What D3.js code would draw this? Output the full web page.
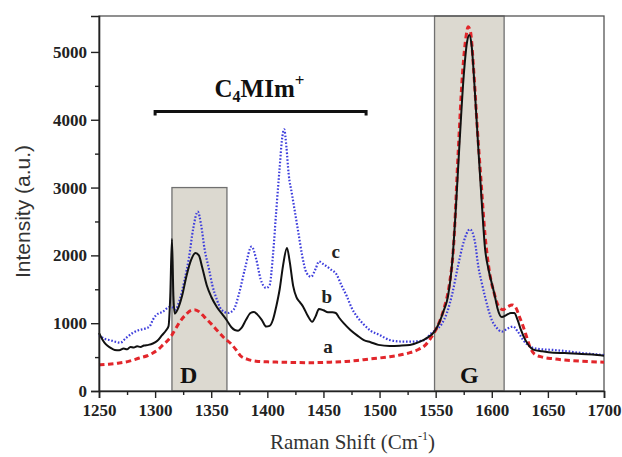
<!DOCTYPE html>
<html>
<head>
<meta charset="utf-8">
<script src="https://cdn.jsdelivr.net/npm/d3@7.9.0/dist/d3.min.js"></script>
<style>
  html, body { margin: 0; padding: 0; background: #fff; }
  svg { display: block; }
  .tick text { font-family: "Liberation Serif", serif; font-weight: bold; font-size: 17px; fill: #222; }
</style>
</head>
<body>
<svg id="chart" width="622" height="457"></svg>
<script>
// Raman spectra: [shift (cm-1), intensity (a.u.)]
const seriesA = [[1250,385],[1258,395],[1268,413],[1277,440],[1286,487],[1293,520],[1298,560],[1303,615],[1307,680],[1311,740],[1314,800],[1318,910],[1322,1020],[1327,1120],[1332,1190],[1335,1200],[1340,1160],[1344,1090],[1350,990],[1356,880],[1362,775],[1368,690],[1372,610],[1376,520],[1382,470],[1390,440],[1400,430],[1411,425],[1425,420],[1440,418],[1456,425],[1470,435],[1480,450],[1491,472],[1500,487],[1509,506],[1518,530],[1527,565],[1535,615],[1541,680],[1546,790],[1550,900],[1554,1047],[1558,1250],[1562,1550],[1566,2150],[1570,3500],[1574,4700],[1577,5220],[1579,5370],[1581,5300],[1584,4700],[1587,3900],[1590,3200],[1594,2300],[1598,1750],[1602,1450],[1606,1250],[1610,1200],[1614,1240],[1618,1270],[1621,1240],[1625,1080],[1628,950],[1631,800],[1634,650],[1638,545],[1645,500],[1655,475],[1665,457],[1680,440],[1700,425]];

const seriesB = [[1250,855],[1253,760],[1256,690],[1260,640],[1264,605],[1268,600],[1272,625],[1275,615],[1278,650],[1281,640],[1284,660],[1287,650],[1290,670],[1294,680],[1298,700],[1302,740],[1306,820],[1310,900],[1312,960],[1313.5,1400],[1315,2240],[1316.3,1400],[1317.5,1140],[1320,1200],[1324,1400],[1328,1700],[1332,1930],[1336,2035],[1339,2000],[1342,1820],[1346,1560],[1350,1390],[1355,1240],[1360,1130],[1364,1040],[1368,940],[1371,900],[1374,890],[1377,930],[1381,1050],[1385,1150],[1388,1165],[1391,1130],[1395,1050],[1399,950],[1402,960],[1405,1050],[1408,1250],[1411,1500],[1414,1850],[1417.5,2110],[1420,1900],[1423,1550],[1426,1380],[1429,1310],[1432,1240],[1436,1110],[1440,1020],[1443,1100],[1446,1210],[1450,1190],[1454,1160],[1458,1160],[1461,1150],[1464,1080],[1468,1000],[1474,900],[1480,820],[1486,750],[1492,720],[1499,680],[1509,664],[1518,668],[1527,678],[1535,720],[1542,780],[1549,880],[1553,1000],[1557,1180],[1561,1400],[1565,1950],[1568,2700],[1571,3580],[1575,4650],[1578,5150],[1580,5250],[1582,5100],[1585,4400],[1588,3580],[1591,2800],[1594,2100],[1597,1800],[1600,1590],[1603,1380],[1605,1225],[1609,1090],[1613,1120],[1617,1150],[1620,1150],[1623,1050],[1626,900],[1630,750],[1634,650],[1637,610],[1645,585],[1655,565],[1665,560],[1680,545],[1690,540],[1700,520]];

const seriesC = [[1250,825],[1255,770],[1260,750],[1265,725],[1269,712],[1274,780],[1280,855],[1286,900],[1291,920],[1295,950],[1298,1050],[1301,1120],[1307,1170],[1313,1240],[1316,1230],[1318,1200],[1322,1350],[1326,1620],[1330,1950],[1334,2400],[1338,2645],[1341,2450],[1344,2100],[1348,1800],[1351,1560],[1355,1350],[1359,1200],[1365,1150],[1370,1200],[1375,1450],[1380,1800],[1386,2130],[1390,1950],[1394,1650],[1399,1520],[1402,1560],[1405,2000],[1408,2670],[1411,3300],[1413,3700],[1415,3860],[1417,3600],[1419,3200],[1422,2900],[1425,2600],[1428,2300],[1431,2000],[1435,1740],[1439,1685],[1443,1800],[1446,1910],[1450,1870],[1456,1800],[1462,1710],[1466,1560],[1471,1390],[1475,1230],[1480,1095],[1486,980],[1492,890],[1500,826],[1509,752],[1518,730],[1527,727],[1535,735],[1540,752],[1546,850],[1550,900],[1555,980],[1560,1150],[1565,1450],[1570,1850],[1575,2200],[1580.6,2385],[1585,2200],[1588,1835],[1591,1600],[1594,1390],[1597,1200],[1600,1047],[1604,940],[1609,875],[1614,920],[1619,950],[1623,880],[1628,752],[1632,680],[1637,634],[1645,615],[1655,605],[1665,590],[1680,560],[1690,545],[1700,530]];

// shaded bands: [from, to, top intensity]
const bandD = [1315, 1364, 3000];
const bandG = [1549, 1611, 5530];
// C4MIm+ bracket: [from, to, intensity]
const bracket = [1300, 1488, 4120];

const xTicks = [1250, 1300, 1350, 1400, 1450, 1500, 1550, 1600, 1650, 1700];
const yTicks = [0, 1000, 2000, 3000, 4000, 5000];

const margin = { top: 16, right: 18, bottom: 66, left: 99 };
const W = 622, H = 457;
const iw = W - margin.left - margin.right;
const ih = H - margin.top - margin.bottom;

const svg = d3.select('#chart');
const g = svg.append('g').attr('transform', `translate(${margin.left},${margin.top})`);

const x = d3.scaleLinear().domain([1250, 1700]).range([0, iw]);
const y = d3.scaleLinear().domain([0, 5530]).range([ih, 0]);

// bands
[bandD, bandG].forEach(b => {
  g.append('rect')
    .attr('x', x(b[0])).attr('y', y(b[2]))
    .attr('width', x(b[1]) - x(b[0])).attr('height', y(0) - y(b[2]))
    .attr('fill', '#dcd9d0')
    .attr('stroke', '#707070')
    .attr('stroke-width', 1.3);
});

// frame (top/right)
g.append('rect')
  .attr('width', iw).attr('height', ih)
  .attr('fill', 'none').attr('stroke', '#555').attr('stroke-width', 1.3);

const line = d3.line()
  .x(d => x(d[0]))
  .y(d => y(d[1]))
  .curve(d3.curveMonotoneX);

g.append('path').datum(seriesC)
  .attr('d', line).attr('fill', 'none')
  .attr('stroke', '#3d3ddc').attr('stroke-width', 2.2)
  .attr('stroke-dasharray', '1.6,1.8');

g.append('path').datum(seriesA)
  .attr('d', line).attr('fill', 'none')
  .attr('stroke', '#e2262b').attr('stroke-width', 3)
  .attr('stroke-dasharray', '5.5,3.5');

g.append('path').datum(seriesB)
  .attr('d', line).attr('fill', 'none')
  .attr('stroke', '#111').attr('stroke-width', 2);

// axes
const xAxis = g.append('g').attr('transform', `translate(0,${ih})`)
  .call(d3.axisBottom(x).tickValues(xTicks).tickSize(7).tickPadding(6).tickFormat(d3.format('d')));
g.append('g').attr('transform', `translate(0,${ih})`)
  .call(d3.axisBottom(x).tickValues(d3.range(1275, 1700, 50)).tickSize(4).tickFormat(''))
  .select('.domain').remove();

const yAxis = g.append('g')
  .call(d3.axisLeft(y).tickValues(yTicks).tickSize(8).tickPadding(4).tickFormat(d3.format('d')));
g.append('g')
  .call(d3.axisLeft(y).tickValues(d3.range(500, 5500, 1000)).tickSize(4).tickFormat(''))
  .select('.domain').remove();

svg.selectAll('.domain').attr('stroke', '#222').attr('stroke-width', 1.6);
svg.selectAll('.tick line').attr('stroke', '#222').attr('stroke-width', 1.4);
xAxis.selectAll('.tick text').attr('dy', '0.72em');

// bracket
g.append('path')
  .attr('d', `M${x(bracket[0])},${y(bracket[2]) + 4}V${y(bracket[2])}H${x(bracket[1])}V${y(bracket[2]) + 4}`)
  .attr('fill', 'none').attr('stroke', '#111').attr('stroke-width', 3);

const serif = '"Liberation Serif", "DejaVu Serif", serif';

const ct = g.append('text')
  .attr('x', x(1393)).attr('y', y(bracket[2]) - 15)
  .attr('text-anchor', 'middle')
  .attr('font-family', serif).attr('font-weight', 'bold').attr('font-size', 25).attr('fill', '#111');
ct.append('tspan').text('C');
ct.append('tspan').text('4').attr('font-size', 16).attr('dy', 5);
ct.append('tspan').text('MIm').attr('dy', -5);
ct.append('tspan').text('+').attr('font-size', 17).attr('dy', -11);

// band labels
[['D', 1330], ['G', 1580]].forEach(([t, v]) => {
  g.append('text').attr('x', x(v)).attr('y', ih - 8)
    .attr('text-anchor', 'middle')
    .attr('font-family', serif).attr('font-weight', 'bold').attr('font-size', 24)
    .attr('fill', '#111').text(t);
});

// curve labels
[['c', 1461, 258], ['b', 1453, 303], ['a', 1454, 353]].forEach(([t, v, py]) => {
  svg.append('text').attr('x', margin.left + x(v)).attr('y', py)
    .attr('text-anchor', 'middle')
    .attr('font-family', serif).attr('font-weight', 'bold').attr('font-size', 19)
    .attr('fill', '#222').text(t);
});

// axis titles
svg.append('text')
  .attr('transform', `translate(30,${margin.top + ih / 2 + 8}) rotate(-90)`)
  .attr('text-anchor', 'middle')
  .attr('font-family', '"Liberation Sans", Arial, sans-serif')
  .attr('font-size', 21).attr('fill', '#333')
  .text('Intensity (a.u.)');

const xt = svg.append('text')
  .attr('x', margin.left + iw / 2 + 1).attr('y', 449)
  .attr('text-anchor', 'middle')
  .attr('font-family', serif).attr('font-size', 21).attr('fill', '#333');
xt.append('tspan').text('Raman Shift (Cm');
xt.append('tspan').text('-1').attr('font-size', 12).attr('dy', -9);
xt.append('tspan').text(')').attr('dy', 9);
</script>
</body>
</html>
